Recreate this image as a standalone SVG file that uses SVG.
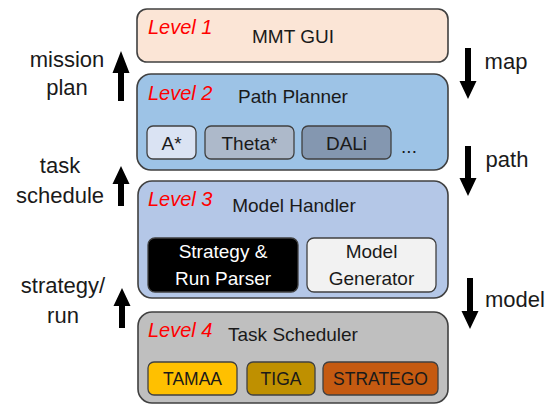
<svg xmlns="http://www.w3.org/2000/svg" width="553" height="405" viewBox="0 0 553 405">
<style>
text{font-family:"Liberation Sans",Arial,sans-serif;fill:#1a1a1a}
.lvl{fill:#ff0000;font-style:italic;font-size:20px}
.title{font-size:19px;text-anchor:middle}
.sub{font-size:19px;text-anchor:middle}
.cap{font-size:17.5px;text-anchor:middle}
.side{font-size:22px;text-anchor:middle}
.big{stroke:#404040;stroke-width:1.6}
.box{stroke:#404040;stroke-width:1.3}
.arr{fill:#000}
</style>
<rect width="553" height="405" fill="#fff"/>
<g id="level1">
<rect class="big" x="137" y="9" width="311" height="53" rx="10" fill="#fbe5d6"/>
<text class="lvl" x="148" y="34">Level 1</text>
<text class="title" x="293" y="43">MMT GUI</text>
</g>
<g id="level2">
<rect class="big" x="137" y="74" width="311" height="96" rx="14" fill="#9dc3e6"/>
<text class="lvl" x="148" y="100">Level 2</text>
<text class="title" x="293" y="103">Path Planner</text>
<g id="astar"><rect class="box" x="147" y="126" width="49" height="33" rx="6" fill="#dae3f3"/><text class="sub" x="171.5" y="150">A*</text></g>
<g id="theta"><rect class="box" x="205" y="126" width="89" height="33" rx="6" fill="#adb9ca"/><text class="sub" x="249.5" y="150">Theta*</text></g>
<g id="dali"><rect class="box" x="302" y="126" width="89" height="33" rx="6" fill="#8497b0"/><text class="sub" x="346.5" y="150">DALi</text></g>
<text class="sub" x="409" y="153">...</text>
</g>
<g id="level3">
<rect class="big" x="138" y="181" width="310" height="117" rx="14" fill="#b4c7e7"/>
<text class="lvl" x="148" y="206">Level 3</text>
<text class="title" x="294" y="212">Model Handler</text>
<g id="parser"><rect class="box" x="148" y="238" width="150" height="54" rx="7" fill="#000"/><text class="sub" x="223" y="258" style="fill:#fff">Strategy &amp;</text><text class="sub" x="223" y="285" style="fill:#fff">Run Parser</text></g>
<g id="generator"><rect class="box" x="307" y="238" width="129" height="54" rx="7" fill="#f2f2f2"/><text class="sub" x="371.5" y="258">Model</text><text class="sub" x="371.5" y="285">Generator</text></g>
</g>
<g id="level4">
<rect class="big" x="138" y="312" width="310" height="91" rx="14" fill="#bfbfbf"/>
<text class="lvl" x="148" y="337">Level 4</text>
<text class="title" x="293" y="341">Task Scheduler</text>
<g id="tamaa"><rect class="box" x="148" y="362" width="89" height="33" rx="6" fill="#ffc000"/><text class="cap" x="192.5" y="385">TAMAA</text></g>
<g id="tiga"><rect class="box" x="247" y="362" width="68" height="33" rx="6" fill="#bf9000"/><text class="cap" x="281" y="385">TIGA</text></g>
<g id="stratego"><rect class="box" x="323" y="362" width="115" height="33" rx="6" fill="#c55a11"/><text class="cap" x="380.5" y="385">STRATEGO</text></g>
</g>
<g id="connectors">
<polygon class="arr" points="121,51 129.5,73 124,73 124,101 118,101 118,73 112.5,73"/>
<polygon class="arr" points="121,166 129.5,184 124,184 124,206 118,206 118,184 112.5,184"/>
<polygon class="arr" points="122,288 130.5,306 125,306 125,328 119,328 119,306 113.5,306"/>
<polygon class="arr" points="468,99 459.5,81 465,81 465,48 471,48 471,81 476.5,81"/>
<polygon class="arr" points="468,196 459.5,178 465,178 465,146 471,146 471,178 476.5,178"/>
<polygon class="arr" points="470,329 461.5,311 467,311 467,278 473,278 473,311 478.5,311"/>
</g>
<g id="labels">
<text class="side" x="67" y="67">mission</text>
<text class="side" x="67" y="95">plan</text>
<text class="side" x="60" y="173">task</text>
<text class="side" x="60" y="203">schedule</text>
<text class="side" x="63" y="293">strategy/</text>
<text class="side" x="63" y="323">run</text>
<text class="side" x="506" y="69">map</text>
<text class="side" x="507" y="167">path</text>
<text class="side" x="515" y="307">model</text>
</g>
</svg>
